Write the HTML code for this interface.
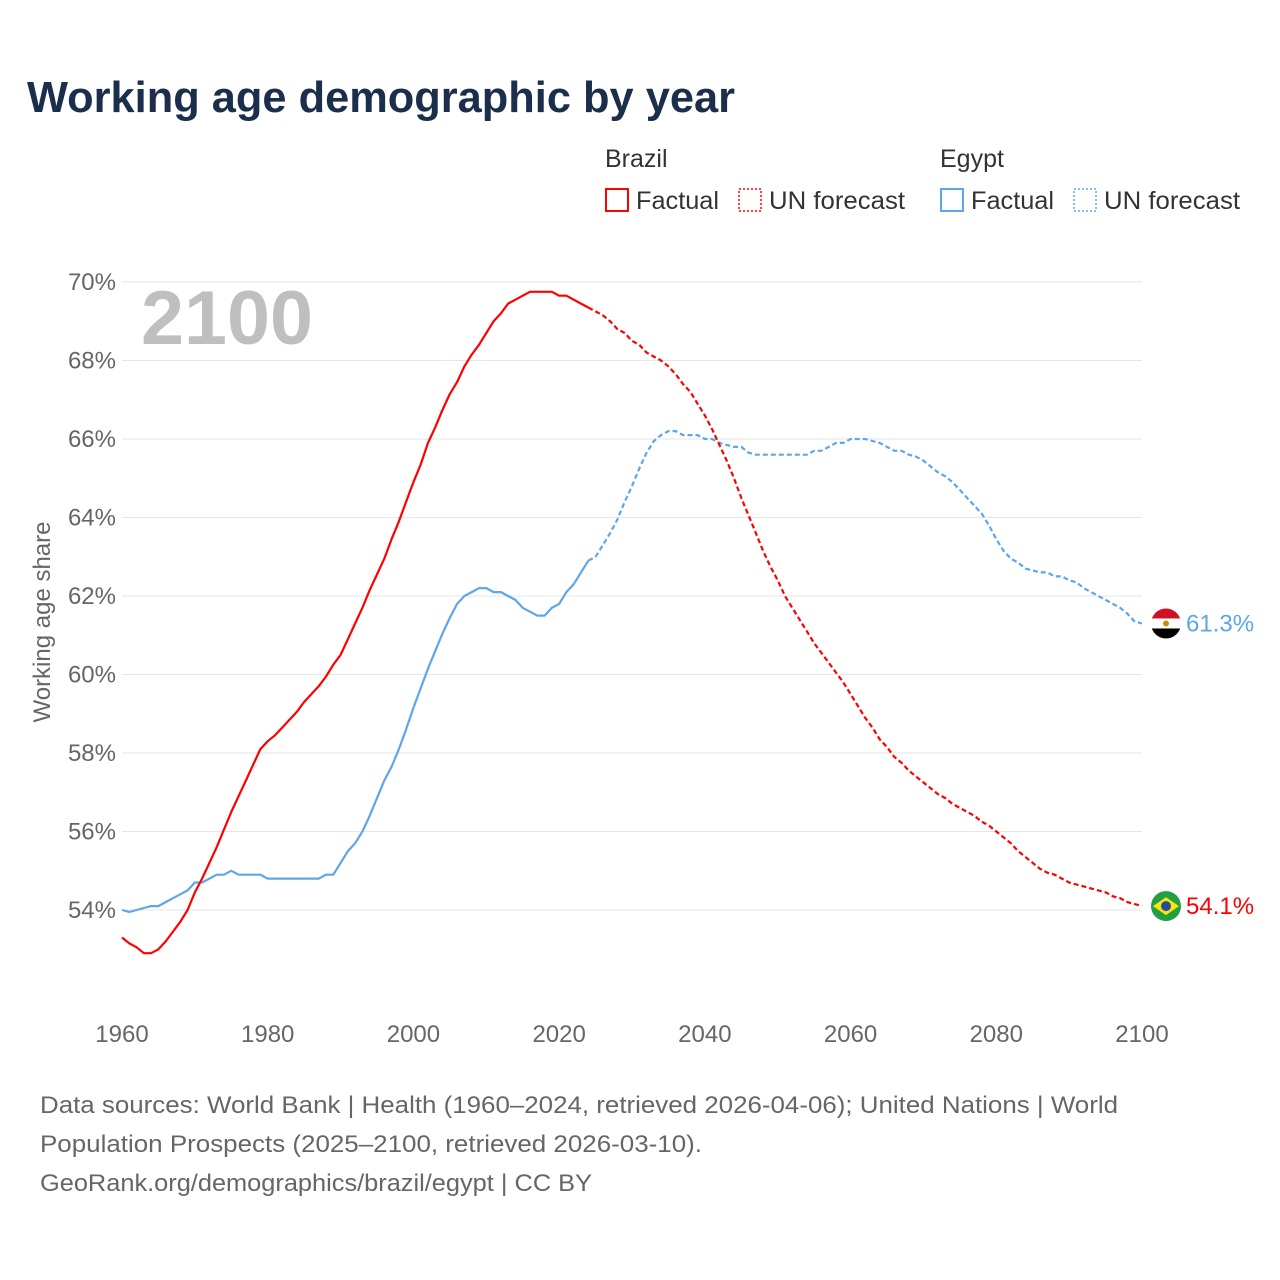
<!DOCTYPE html>
<html><head><meta charset="utf-8"><style>
body{margin:0;background:#fff;font-family:"Liberation Sans",sans-serif}
#wrap{position:relative;width:1280px;height:1280px;overflow:hidden}
svg{position:absolute;left:0;top:0}
</style></head><body><div id="wrap">
<svg id="c" width="1280" height="1280"></svg>
</div>
<script>
const years = [];
for (let y = 1960; y <= 2100; y++) years.push(y);
const brazil = [53.3,53.15,53.05,52.9,52.9,53.0,53.2,53.45,53.7,54.0,54.45,54.8,55.2,55.6,56.05,56.5,56.9,57.3,57.7,58.1,
58.3,58.45,58.65,58.85,59.05,59.3,59.5,59.7,59.95,60.25,60.5,60.9,61.3,61.7,62.15,62.55,62.95,63.45,63.9,64.4,
64.9,65.35,65.9,66.3,66.75,67.15,67.45,67.85,68.15,68.4,68.7,69.0,69.2,69.45,69.55,69.65,69.75,69.75,69.75,69.75,
69.65,69.65,69.55,69.45,69.35,69.25,69.15,69.0,68.8,68.7,68.5,68.4,68.2,68.1,68.0,67.85,67.65,67.4,67.2,66.9,
66.6,66.25,65.85,65.45,65.0,64.5,64.05,63.6,63.15,62.75,62.4,62.0,61.7,61.4,61.1,60.8,60.55,60.3,60.05,59.8,
59.5,59.2,58.9,58.65,58.35,58.15,57.9,57.75,57.55,57.4,57.25,57.1,56.95,56.85,56.7,56.6,56.5,56.4,56.25,56.15,
56.0,55.85,55.7,55.5,55.35,55.2,55.05,54.95,54.9,54.8,54.7,54.65,54.6,54.55,54.5,54.45,54.35,54.3,54.2,54.15,54.1];
const egypt = [54.0,53.95,54.0,54.05,54.1,54.1,54.2,54.3,54.4,54.5,54.7,54.7,54.8,54.9,54.9,55.0,54.9,54.9,54.9,54.9,
54.8,54.8,54.8,54.8,54.8,54.8,54.8,54.8,54.9,54.9,55.2,55.5,55.7,56.0,56.4,56.85,57.3,57.65,58.1,58.6,
59.15,59.65,60.15,60.6,61.05,61.45,61.8,62.0,62.1,62.2,62.2,62.1,62.1,62.0,61.9,61.7,61.6,61.5,61.5,61.7,
61.8,62.1,62.3,62.6,62.9,63.0,63.3,63.6,63.95,64.4,64.8,65.25,65.65,65.95,66.1,66.2,66.2,66.1,66.1,66.1,
66.0,66.0,65.9,65.85,65.8,65.8,65.65,65.6,65.6,65.6,65.6,65.6,65.6,65.6,65.6,65.7,65.7,65.8,65.9,65.9,
66.0,66.0,66.0,65.95,65.9,65.8,65.7,65.7,65.6,65.55,65.45,65.3,65.15,65.05,64.9,64.7,64.5,64.3,64.1,63.8,
63.45,63.15,62.95,62.85,62.7,62.65,62.6,62.6,62.5,62.5,62.4,62.35,62.2,62.1,62.0,61.9,61.8,61.7,61.55,61.35,61.3];
const yTicks = [54,56,58,60,62,64,66,68,70];
const xTicks = [1960,1980,2000,2020,2040,2060,2080,2100];
const forecastStart = 2024;

const NS = "http://www.w3.org/2000/svg";
const svg = document.getElementById('c');
const X = y => 122 + (y - 1960) * (1020 / 140);
const Y = v => 910 - (v - 54) * (628 / 16);
function el(tag, attrs, parent) {
  const e = document.createElementNS(NS, tag);
  for (const k in attrs) e.setAttribute(k, attrs[k]);
  (parent || svg).appendChild(e);
  return e;
}
function txt(s, attrs, parent) { const t = el('text', attrs, parent); t.textContent = s; return t; }

let t;
t = txt('Working age demographic by year', {x:27, y:112, 'font-size':44, 'font-weight':'bold', fill:'#1b2e4b', textLength:708, lengthAdjust:'spacingAndGlyphs'});



const legendData = [
  {x:605, name:'Brazil', color:'#ff0000'},
  {x:940, name:'Egypt', color:'#5ea6ea'}
];
legendData.forEach(L => {
  const g = el('g', {});
  
  
  txt(L.name, {x:L.x, y:167, 'font-size':25, fill:'#333'}, g);
  el('rect', {x:L.x+1, y:189, width:22, height:22, fill:'none', stroke:L.color, 'stroke-width':2}, g);
  txt('Factual', {x:L.x+31, y:209, 'font-size':25, fill:'#333', textLength:83, lengthAdjust:'spacingAndGlyphs'}, g);
  el('rect', {x:L.x+134, y:189, width:22, height:22, fill:'none', stroke:L.color, 'stroke-width':1.5, 'stroke-dasharray':'2,2'}, g);
  txt('UN forecast', {x:L.x+164, y:209, 'font-size':25, fill:'#333', textLength:136, lengthAdjust:'spacingAndGlyphs'}, g);
});

yTicks.forEach(v => {
  const l = el('line', {x1:122, x2:1142, y1:Y(v), y2:Y(v), stroke:'#e6e6e6', 'stroke-width':1});
  
  
  const tt = txt(v + '%', {x:116, y:Y(v)+8, 'font-size':24, fill:'#666', 'text-anchor':'end'});
  
  
});
xTicks.forEach(v => {
  const tt = txt(String(v), {x:X(v), y:1042, 'font-size':24, fill:'#666', 'text-anchor':'middle'});
  
  
});
t = txt('Working age share', {x:0, y:0, 'font-size':24, fill:'#666', 'text-anchor':'middle', transform:'translate(50,622) rotate(-90)'});



t = txt('2100', {x:141, y:344, 'font-size':76, 'font-weight':'bold', fill:'#bfbfbf', textLength:172, lengthAdjust:'spacingAndGlyphs'});



function series(vals, color, name) {
  let p1 = '', p2 = '';
  years.forEach((yr, i) => {
    const pt = X(yr).toFixed(1) + ',' + Y(vals[i]).toFixed(1) + ' ';
    if (yr <= forecastStart) p1 += pt;
    if (yr >= forecastStart) p2 += pt;
  });
  const a = el('polyline', {points:p1, fill:'none', stroke:color, 'stroke-width':2.2, 'stroke-linejoin':'round'});
  
  
  const b = el('polyline', {points:p2, fill:'none', stroke:color, 'stroke-width':2.2, 'stroke-dasharray':'5,3'});
  
  
}
series(egypt, '#5ea6ea', 'egypt');
series(brazil, '#ff0000', 'brazil');

const ey = Y(egypt[egypt.length-1]), by = Y(brazil[brazil.length-1]);
const eg = el('g', {});


const cp = el('clipPath', {id:'ce'}, eg);
el('circle', {cx:1166, cy:ey, r:15}, cp);
el('rect', {x:1151, y:ey-15, width:30, height:10, fill:'#ce1126', 'clip-path':'url(#ce)'}, eg);
el('rect', {x:1151, y:ey-5, width:30, height:10, fill:'#fff', 'clip-path':'url(#ce)'}, eg);
el('rect', {x:1151, y:ey+5, width:30, height:10, fill:'#000', 'clip-path':'url(#ce)'}, eg);
el('circle', {cx:1166, cy:ey, r:3, fill:'#c09300'}, eg);
t = txt('61.3%', {x:1186, y:ey+8, 'font-size':24, fill:'#5ea6ea'});



const bg = el('g', {});


el('circle', {cx:1166, cy:by, r:15, fill:'#229e45'}, bg);
el('polygon', {points:`1153,${by} 1166,${by-9} 1179,${by} 1166,${by+9}`, fill:'#f8e509'}, bg);
el('circle', {cx:1166, cy:by, r:5, fill:'#2b49a3'}, bg);
t = txt('54.1%', {x:1186, y:by+8, 'font-size':24, fill:'#ff0000'});



const foot = ['Data sources: World Bank | Health (1960–2024, retrieved 2026-04-06); United Nations | World',
  'Population Prospects (2025–2100, retrieved 2026-03-10).',
  'GeoRank.org/demographics/brazil/egypt | CC BY'];
const footLen = [1078, 662, 552];
foot.forEach((s, i) => {
  const f = txt(s, {x:40, y:1113 + i*39, 'font-size':24, fill:'#666', textLength:footLen[i], lengthAdjust:'spacingAndGlyphs'});
  
  
});
</script></body></html>
